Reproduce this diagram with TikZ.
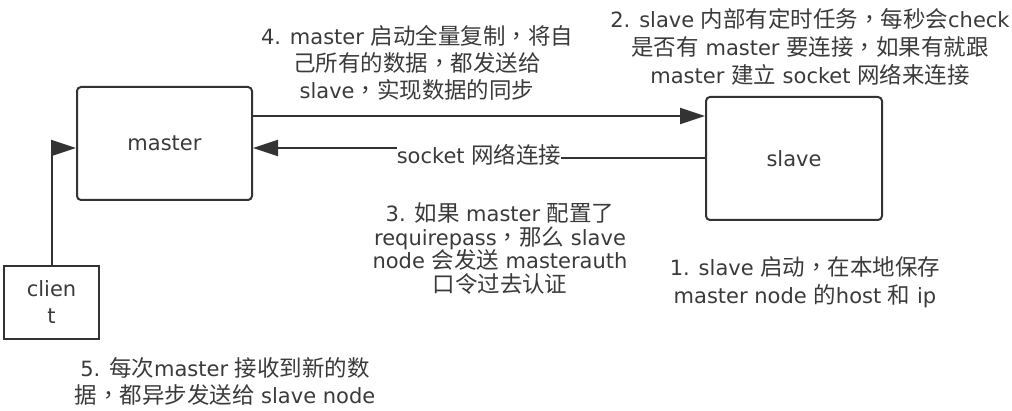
\documentclass[tikz,border=0pt]{standalone}
\usepackage{fontspec}
\setmainfont{DejaVu Sans}
\newfontfamily\cjk[Scale=1.07]{Noto Sans CJK SC}
\newfontfamily\cjktc[Scale=1.07]{Noto Sans CJK TC}
\newcommand\zh[1]{{\cjk #1}}
\newcommand\cm{{\cjktc ，}}
\usetikzlibrary{arrows.meta}
\definecolor{ln}{HTML}{333333}
\definecolor{tx}{HTML}{3A3A3A}
\begin{document}
\begin{tikzpicture}[x=1pt,y=-1pt,
  box/.style={draw=ln,line width=2pt,rounded corners=4pt,inner sep=0pt,text=tx},
  sqbox/.style={draw=ln,line width=2pt,inner sep=0pt,text=tx},
  lbl/.style={text=tx,align=center,inner sep=0pt},
  arr/.style={draw=ln,line width=2pt,-{Triangle[length=25pt,width=16pt]}},
  font=\fontsize{21}{27}\selectfont]
\useasboundingbox (0,0) rectangle (1012,411);
\node[box,minimum width=175pt,minimum height=113pt] (master) at (164.5,143.5) {master};
\node[box,minimum width=176pt,minimum height=123pt] (slave) at (794,158.5) {slave};
\node[sqbox,minimum width=95pt,minimum height=73pt,align=center] (client) at (51.5,302.5) {clien\\t};
\coordinate (t) at (0,116);
\coordinate (b1) at (0,158);
\coordinate (b2) at (0,148);
\coordinate (c) at (0,148);
\node[lbl] (sock) at (479,155) {socket \zh{网络连接}};
\draw[arr] (master.east |- t) -- (slave.west |- t);
\draw[draw=ln,line width=2pt] (slave.west |- b1) -- (sock.east |- b1);
\draw[arr] (sock.west |- b2) -- (master.east |- b2);
\draw[arr] (client.north) |- (master.west |- c);
\node[lbl] (l4) at (417,63) {4. master \zh{启动全量复制}\cm\zh{将自}\\\zh{己所有的数据}\cm\zh{都发送给}\\slave\cm\zh{实现数据的同步}};
\node[lbl,font=\fontsize{21}{28}\selectfont] (l2) at (810,47) {2. slave \zh{内部有定时任务}\cm\zh{每秒会}check\\\zh{是否有} master \zh{要连接}\cm\zh{如果有就跟}\\master \zh{建立} socket \zh{网络来连接}};
\node[lbl,font=\fontsize{21}{23.5}\selectfont] (l3) at (500,248.5) {3. \zh{如果} master \zh{配置了}\\requirepass\cm\zh{那么} slave\\node \zh{会发送} masterauth\\\zh{口令过去认证}};
\node[lbl,font=\fontsize{21}{28}\selectfont] (l1) at (805,282) {1. slave \zh{启动}\cm\zh{在本地保存}\\master node \zh{的}host \zh{和} ip};
\node[lbl] (l5) at (225,381) {5. \zh{每次}master \zh{接收到新的数}\\\zh{据}\cm\zh{都异步发送给} slave node};
\end{tikzpicture}
\end{document}
